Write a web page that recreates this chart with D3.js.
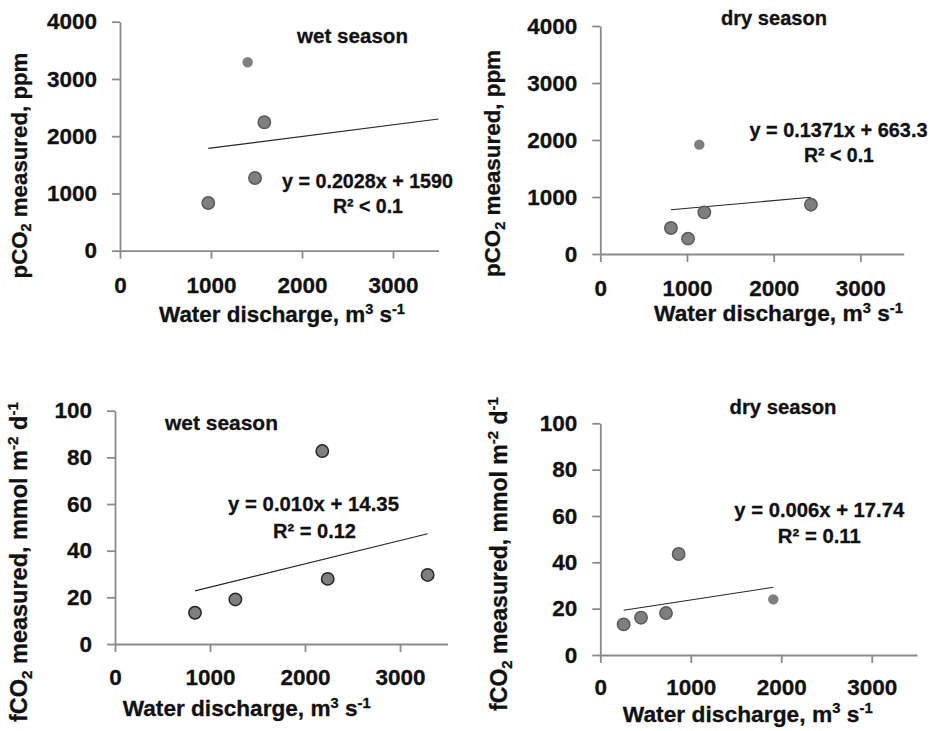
<!DOCTYPE html>
<html>
<head>
<meta charset="utf-8">
<script src="https://cdn.jsdelivr.net/npm/d3@7"></script>
<style>
  html, body { margin: 0; padding: 0; background: #fff; }
  svg { display: block; }
  text { font-family: "Liberation Sans", Arial, sans-serif; font-weight: bold; fill: #111; }
</style>
</head>
<body>
<svg id="chart" width="932" height="731"></svg>
<script>
// ---- data ----
const dischargeTicks = [0, 1000, 2000, 3000];
const pco2Ticks = [0, 1000, 2000, 3000, 4000];
const fco2Ticks = [0, 20, 40, 60, 80, 100];

// pCO2, wet season
const pco2WetQ = [970, 1403, 1484, 1586];
const pco2WetV = [833, 3291, 1270, 2243];
const pco2WetPlain = [false, true, false, false];
const pco2WetFit = { slope: 0.2028, intercept: 1590, from: 970, to: 3500 };

// pCO2, dry season
const pco2DryQ = [815, 1012, 1142, 1200, 2430];
const pco2DryV = [456, 269, 1918, 731, 865];
const pco2DryPlain = [false, false, true, false, false];
const pco2DryFit = { slope: 0.1371, intercept: 663.3, from: 815, to: 2430 };

// fCO2, wet season
const fco2WetQ = [842, 1267, 2182, 2239, 3291];
const fco2WetV = [13.4, 19.1, 82.7, 27.9, 29.6];
const fco2WetPlain = [false, false, false, false, false];
const fco2WetFit = { slope: 0.010, intercept: 14.35, from: 842, to: 3291 };

// fCO2, dry season
const fco2DryQ = [258, 450, 726, 866, 1912];
const fco2DryV = [13.2, 16.1, 18.1, 43.6, 24.0];
const fco2DryPlain = [false, false, false, false, true];
const fco2DryFit = { slope: 0.006, intercept: 17.74, from: 258, to: 1912 };

const panelTitles = ["wet season", "dry season", "wet season", "dry season"];
const equations = ["y = 0.2028x + 1590", "y = 0.1371x + 663.3", "y = 0.010x + 14.35", "y = 0.006x + 17.74"];
const r2Labels = ["R² < 0.1", "R² < 0.1", "R² = 0.12", "R² = 0.11"];

// ---- layout ----
const svg = d3.select("#chart");

// [centre x, centre y, run length] for each label
const panels = [
  { q: pco2WetQ, v: pco2WetV, plain: pco2WetPlain, fit: pco2WetFit, yTicks: pco2Ticks, yMax: 4000, kind: "p",
    x0: 120, x1: 438.5, y0: 250.7, y1: 21.7, stroke: "#5a5a5a", pad: 18,
    title: [352.5, 43, 111], eq: [367.5, 188, 171], r2: [368, 213, 70], xt: [282, 322, 246], yt: [26.5, 165.5, 226] },
  { q: pco2DryQ, v: pco2DryV, plain: pco2DryPlain, fit: pco2DryFit, yTicks: pco2Ticks, yMax: 4000, kind: "p",
    x0: 600.3, x1: 903.7, y0: 254, y1: 26, stroke: "#5a5a5a", pad: 18,
    title: [774, 25, 106], eq: [838.5, 136.7, 178], r2: [839, 162, 70], xt: [778.5, 321, 249], yt: [500, 163.5, 227] },
  { q: fco2WetQ, v: fco2WetV, plain: fco2WetPlain, fit: fco2WetFit, yTicks: fco2Ticks, yMax: 100, kind: "f",
    x0: 115, x1: 447.5, y0: 644, y1: 410.7, stroke: "#262626", pad: 17,
    title: [221.5, 430, 113], eq: [313.5, 510.7, 171], r2: [314.5, 537.7, 83], xt: [246.7, 716, 248], yt: [26.5, 562, 320] },
  { q: fco2DryQ, v: fco2DryV, plain: fco2DryPlain, fit: fco2DryFit, yTicks: fco2Ticks, yMax: 100, kind: "f",
    x0: 600.3, x1: 917, y0: 655, y1: 423.3, stroke: "#5a5a5a", pad: 16.5,
    title: [783, 414, 107], eq: [819.3, 516.7, 170], r2: [819.3, 543.3, 83], xt: [747.7, 721.5, 250], yt: [506.5, 554, 314] }
];

// text made of plain / superscript / subscript runs, sized to a given run length
function richText(g, spec, parts, rotate) {
  const [x, y, len] = spec;
  const t = g.append("text")
    .attr("text-anchor", "middle")
    .attr("stroke", "#111")
    .attr("stroke-width", 0.3)
    .attr("transform", `translate(${x},${y})` + (rotate ? " rotate(-90)" : ""));
  function build(size) {
    t.selectAll("tspan").remove();
    t.attr("font-size", size).attr("dy", 0.35 * size);
    let shift = 0;
    parts.forEach(p => {
      const target = p.sup ? -0.36 * size : p.sub ? 0.22 * size : 0;
      const ts = t.append("tspan").text(p.t).attr("dy", target - shift);
      if (p.sup || p.sub) ts.attr("font-size", size * 0.65);
      shift = target;
    });
  }
  build(20);
  const measured = t.node().getComputedTextLength();
  build(20 * len / measured);
  return t;
}

panels.forEach((p, i) => {
  const g = svg.append("g");
  const x = d3.scaleLinear().domain([0, 3500]).range([p.x0, p.x1]);
  const y = d3.scaleLinear().domain([0, p.yMax]).range([p.y0, p.y1]);

  const xAxis = g.append("g")
    .attr("transform", `translate(0,${p.y0})`)
    .call(d3.axisBottom(x).tickValues(dischargeTicks).tickFormat(d3.format("d"))
      .tickSize(8).tickSizeOuter(0).tickPadding(p.pad));
  const yAxis = g.append("g")
    .attr("transform", `translate(${p.x0},0)`)
    .call(d3.axisLeft(y).tickValues(p.yTicks).tickFormat(d3.format("d"))
      .tickSize(8).tickSizeOuter(0).tickPadding(15));

  [xAxis, yAxis].forEach(a => {
    a.selectAll("path.domain").attr("stroke", "#8a8a8a").attr("stroke-width", 1.8);
    a.selectAll(".tick line").attr("stroke", "#8a8a8a").attr("stroke-width", 1.8);
    a.selectAll(".tick text")
      .attr("font-size", 22.5)
      .attr("font-family", "'Liberation Sans', Arial, sans-serif")
      .attr("font-weight", "bold")
      .attr("fill", "#111")
      .attr("stroke", "#111")
      .attr("stroke-width", 0.3);
  });

  // regression line
  const f = p.fit;
  g.append("line")
    .attr("x1", x(f.from)).attr("y1", y(f.slope * f.from + f.intercept))
    .attr("x2", x(f.to)).attr("y2", y(f.slope * f.to + f.intercept))
    .attr("stroke", "#262626").attr("stroke-width", 1.1);

  // measurements
  const pts = p.q.map((q, k) => ({ q, v: p.v[k], plain: p.plain[k] }));
  g.selectAll("circle").data(pts).join("circle")
    .attr("cx", d => x(d.q))
    .attr("cy", d => y(d.v))
    .attr("r", d => d.plain ? 5.2 : 6.2)
    .attr("fill", "#7f7f7f")
    .attr("stroke", d => d.plain ? "none" : p.stroke)
    .attr("stroke-width", 1.5);

  // labels
  richText(g, p.title, [{ t: panelTitles[i] }]);
  richText(g, p.eq, [{ t: equations[i] }]);
  richText(g, p.r2, [{ t: r2Labels[i] }]);
  richText(g, p.xt,
    [{ t: "Water discharge, m" }, { t: "3", sup: true }, { t: " s" }, { t: "-1", sup: true }]);
  if (p.kind === "p") {
    richText(g, p.yt,
      [{ t: "pCO" }, { t: "2", sub: true }, { t: " measured, ppm" }], true);
  } else {
    richText(g, p.yt,
      [{ t: "fCO" }, { t: "2", sub: true }, { t: " measured, mmol m" }, { t: "-2", sup: true },
       { t: " d" }, { t: "-1", sup: true }], true);
  }
});
</script>
</body>
</html>
